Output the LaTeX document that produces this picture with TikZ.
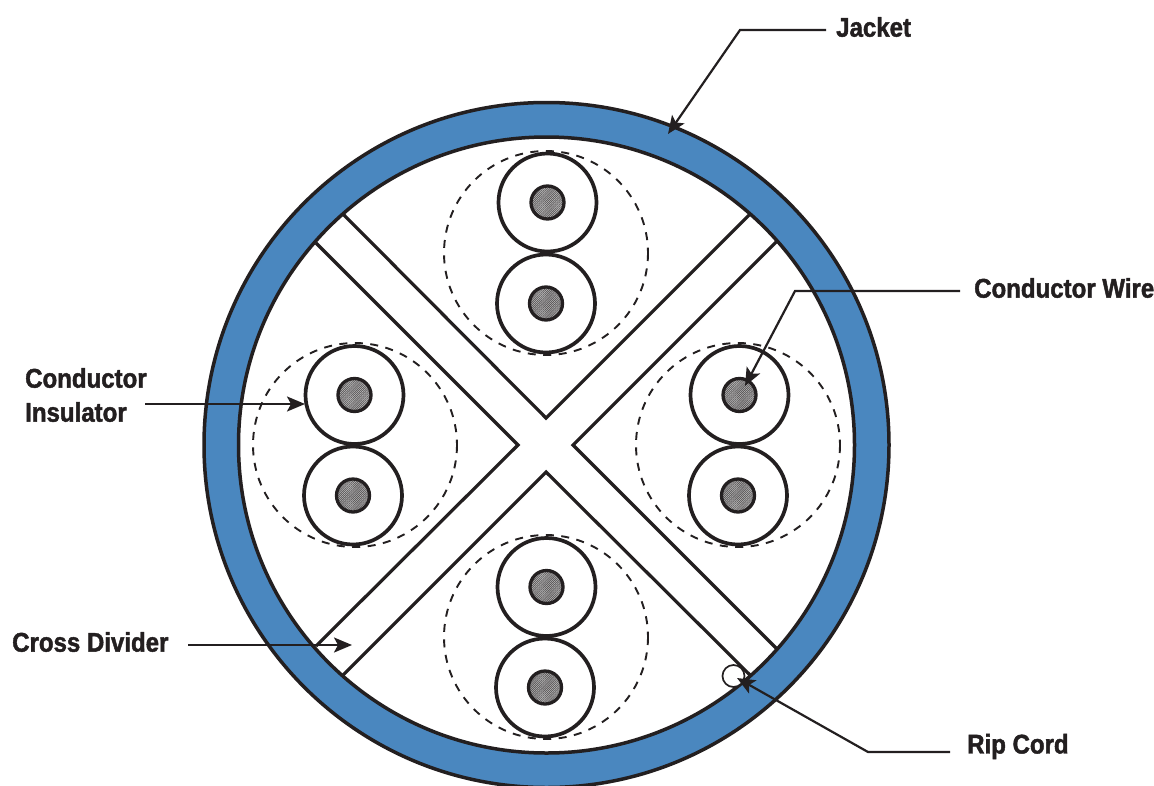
\documentclass[tikz,border=0pt]{standalone}
\usepackage{fontspec}
\setmainfont{Liberation Sans}[FakeStretch=0.89,BoldFeatures={FakeBold=1.6}]
\usetikzlibrary{arrows.meta,patterns.meta}
\definecolor{jacketblue}{HTML}{4A87BF}
\definecolor{inkline}{HTML}{231F20}
\tikzset{
  lbl/.style={font=\fontsize{27}{30}\selectfont\bfseries, text=inkline, anchor=west, inner sep=0pt, align=left},
  pointer/.style={draw=inkline, line width=2.2pt, -{Stealth[length=18pt,width=15pt,inset=4pt]}},
  divider/.style={draw=inkline, line width=3.2pt, miter limit=10},
  insulator/.style={draw=inkline, line width=3.7pt, fill=white},
  wire/.style={draw=inkline, line width=3.3pt, preaction={fill=gray!50}, pattern={Lines[angle=45,distance=1.5pt,line width=.75pt]}, pattern color=inkline!75},
  pairring/.style={draw=inkline, line width=1.9pt, dash pattern=on 8pt off 7.5pt}
}
\begin{document}
\begin{tikzpicture}[x=1pt,y=-1pt]
\useasboundingbox (0,0) rectangle (1154,785);
\clip (0,0) rectangle (1154,785);

% jacket
\fill[white] (0,0) rectangle (1154,785);
\draw[draw=inkline, line width=3.5pt, fill=jacketblue] (546.5,445) circle (342.5);
\draw[draw=inkline, line width=3.5pt, fill=white] (546.5,445) circle (308);

% cross divider
\draw[divider] (343,214)--(546,418)--(750,214);
\draw[divider] (777,241)--(573,445)--(777,649);
\draw[divider] (750,675)--(546,472)--(343,675);
\draw[divider] (316,646)--(518,445)--(316,243);

% pairs
\draw[pairring] (546,253) circle (102);
\draw[insulator] (547.5,202.5) circle (49);
\draw[insulator] (546,303.5) circle (49);
\draw[wire] (547.5,202.5) circle (16.5);
\draw[wire] (546,303.5) circle (16.5);

\draw[pairring] (355,445) circle (102);
\draw[insulator] (354.5,395) circle (49);
\draw[insulator] (353,495.5) circle (49);
\draw[wire] (354.5,395) circle (16.5);
\draw[wire] (353,495.5) circle (16.5);

\draw[pairring] (738,445) circle (102);
\draw[insulator] (739.5,395) circle (49);
\draw[insulator] (738,495.5) circle (49);
\draw[wire] (739.5,395) circle (16.5);
\draw[wire] (738,495.5) circle (16.5);

\draw[pairring] (546,637) circle (102);
\draw[insulator] (546.5,587) circle (49);
\draw[insulator] (545,687.5) circle (49);
\draw[wire] (546.5,587) circle (16.5);
\draw[wire] (545,687.5) circle (16.5);

% rip cord
\draw[draw=inkline, line width=1.7pt, fill=white] (733.5,676) circle (11);

% labels
\node[lbl] (jacket) at (836,27) {Jacket};
\node[lbl] (wirelabel) at (974,288) {Conductor Wire};
\node[lbl] (insulatorlabel) at (25,395) {Conductor\\[4pt]Insulator};
\node[lbl] (dividerlabel) at (12,642) {Cross Divider};
\node[lbl] (ripcord) at (967,746.5) {Rip Cord};

\coordinate (jackettip) at (668,134);
\coordinate (wiretip) at (745,386);
\coordinate (insulatortip) at (305,404);
\coordinate (dividertip) at (352,645);
\coordinate (riptip) at (737,678);

\draw[pointer] (826,30)--(740,30)--(jackettip);
\draw[pointer] (960,291)--(795,291)--(wiretip);
\draw[pointer] (145,404)--(insulatortip);
\draw[pointer] (188,645)--(dividertip);
\draw[pointer] (950,752)--(868,752)--(riptip);
\end{tikzpicture}
\end{document}
